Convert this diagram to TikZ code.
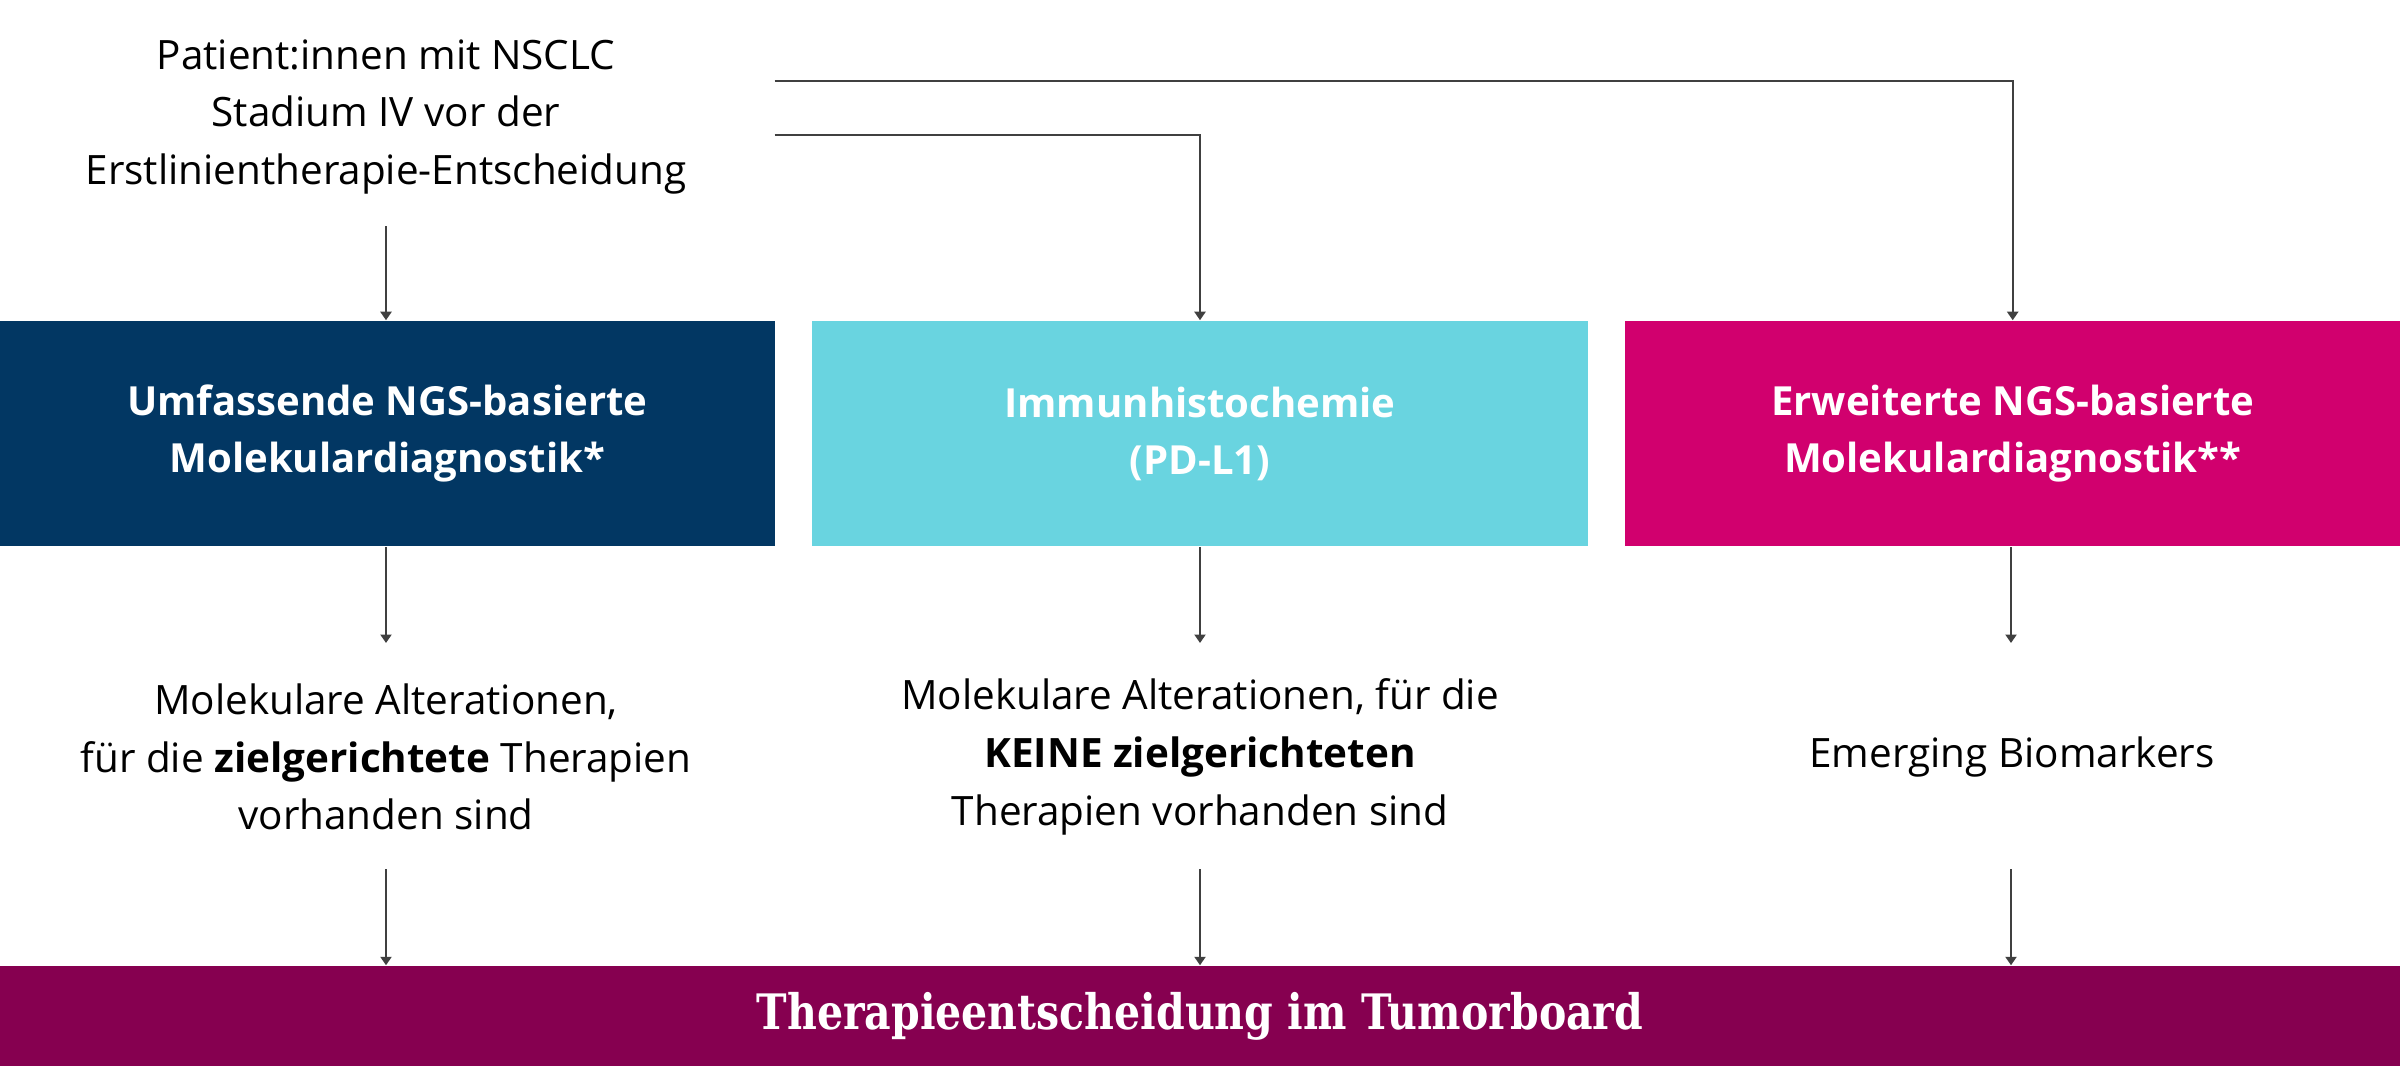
\documentclass[tikz,border=0pt]{standalone}
\usepackage{fontspec}
\setmainfont{Open Sans}
\newfontfamily\slab{DejaVu Serif}[FakeStretch=0.84]
\usetikzlibrary{arrows.meta}
\definecolor{navy}{HTML}{023763}
\definecolor{cyanbox}{HTML}{69D4E0}
\definecolor{magbox}{HTML}{D1006E}
\definecolor{barcol}{HTML}{860050}
\definecolor{linecol}{HTML}{404040}
\tikzset{
  box/.style={draw=none, minimum width=7.747cm, minimum height=2.254cm, inner sep=0pt, text=white, align=center,
    font=\fontsize{11.4}{16.2}\selectfont\bfseries},
  plain/.style={align=center, inner sep=0pt, text=black, font=\fontsize{11.5}{16.4}\selectfont},
  arr/.style={draw=linecol, line width=0.6pt, -{Triangle[width=0.11cm, length=0.085cm]}},
  ln/.style={draw=linecol, line width=0.6pt}
}
\begin{document}
\begin{tikzpicture}[x=0.01cm, y=-0.01cm]
\useasboundingbox (0,0) rectangle (2400,1066);
\node[plain] (pat) at (386,117) {Patient:innen mit NSCLC\\Stadium IV vor der\\Erstlinientherapie-Entscheidung};
\node[box, fill=navy] (b1) at (387.3,433.7) {Umfassende NGS-basierte\\Molekulardiagnostik*};
\node[box, fill=cyanbox] (b2) at (1200,433.7) {Immunhistochemie\\(PD-L1)};
\node[box, fill=magbox] (b3) at (2012.7,433.7) {Erweiterte NGS-basierte\\Molekulardiagnostik**};
\node[plain] (m1) at (386,757) {Molekulare Alterationen,\\für die \textbf{zielgerichtete} Therapien\\vorhanden sind};
\node[plain] (m2) at (1200,757) {Molekulare Alterationen, für die\\\textbf{KEINE zielgerichteten}\\Therapien vorhanden sind};
\node[plain] (m3) at (2012,757) {Emerging Biomarkers};
\node[fill=barcol, minimum width=24cm, minimum height=1.0cm, inner sep=0pt, text=white,
  font=\slab\fontsize{13.9}{16}\selectfont\bfseries] (bar) at (1200,1016) {Therapieentscheidung im Tumorboard};
% connectors
\coordinate (s0) at (386,226);
\coordinate (s1) at (774.7,81);
\coordinate (s2) at (774.7,135);
\draw[arr] (s0) -- (s0 |- b1.north);
\draw[arr] (s1) -| (b3.north);
\draw[arr] (s2) -| (b2.north);
\coordinate (e1) at (386,643);
\coordinate (e2) at (1200,643);
\coordinate (e3) at (2011,643);
\draw[arr] (e1 |- b1.south) -- (e1);
\draw[arr] (b2.south) -- (e2);
\draw[arr] (e3 |- b3.south) -- (e3);
\coordinate (f1) at (386,869);
\coordinate (f2) at (1200,869);
\coordinate (f3) at (2011,869);
\draw[arr] (f1) -- (f1 |- bar.north);
\draw[arr] (f2) -- (f2 |- bar.north);
\draw[arr] (f3) -- (f3 |- bar.north);
\end{tikzpicture}
\end{document}
